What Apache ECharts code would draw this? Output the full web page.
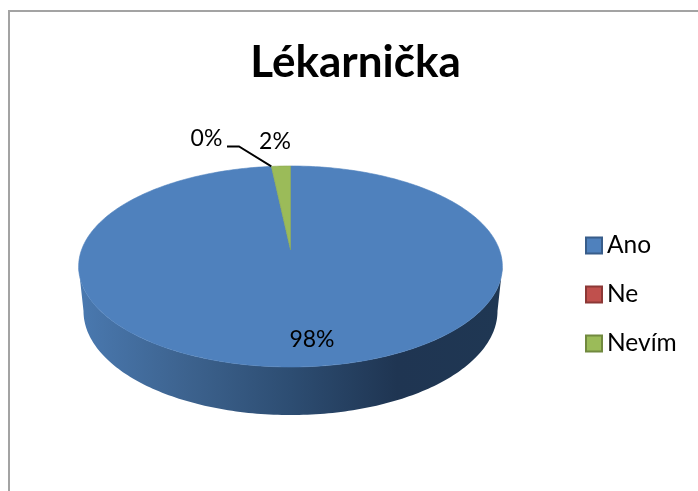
<!DOCTYPE html>
<html>
<head>
<meta charset="utf-8">
<style>
  html, body { margin: 0; padding: 0; background: #fff; }
  #chart { width: 698px; height: 491px; }
</style>
<script src="https://cdn.jsdelivr.net/npm/echarts@6/dist/echarts.min.js"></script>
</head>
<body>
<div id="chart"></div>
<script>
const categories = ["Ano", "Ne", "Nevím"]
const shares = [98.3, 0, 1.7]
const shareLabels = ["98%", "0%", "2%"]
const fills = ["#4f81bd", "#c0504d", "#9bbb59"]
const edges = ["#385d8a", "#8c3836", "#71893f"]

const FONT = "Lato, sans-serif"
const TOTAL = shares.reduce((a, b) => a + b, 0)

// Excel tilts the pie, so the disc is a perspective circle and not a plain ellipse
const TILT = 0.164
const topFace = { cx: 290.5, cy: 250, a: 209, b: 97.8 }
const lowFace = { cx: 290.5, cy: 294, a: 204.2, b: 101.2 }
const labelAt = [[312, 339.5], [206.5, 139], [275, 142]]

function project(face, deg) {
  const t = (deg * Math.PI) / 180
  const w = 1 + TILT * Math.cos(t)
  return [face.cx + (face.a * Math.sin(t)) / w, face.cy - (face.b * Math.cos(t)) / w]
}

function arc(face, from, to) {
  const pts = []
  const steps = Math.max(1, Math.ceil(Math.abs(to - from)))
  for (let i = 0; i <= steps; i++) pts.push(project(face, from + ((to - from) * i) / steps))
  return pts
}

// angle range of the slice, clockwise from twelve o'clock
function sliceRange(idx) {
  let before = 0
  for (let i = 0; i < idx; i++) before += shares[i]
  return [(before / TOTAL) * 360, ((before + shares[idx]) / TOTAL) * 360]
}

const wallGradient = new echarts.graphic.LinearGradient(78, 0, 503, 0, [
  { offset: 0, color: "#4a79b0" },
  { offset: 0.25, color: "#3d638f" },
  { offset: 0.5, color: "#2d4d72" },
  { offset: 0.75, color: "#1f3552" },
  { offset: 1, color: "#1f3753" },
], true)

function renderSlice(params, api) {
  const idx = params.seriesIndex
  const [start, end] = sliceRange(idx)
  const children = []

  // front wall only exists between the two silhouette points of the disc
  const edgeDeg = (Math.acos(-TILT) * 180) / Math.PI
  const from = Math.max(start, edgeDeg)
  const to = Math.min(end, 360 - edgeDeg)
  if (to > from) {
    children.push({
      type: "polygon",
      shape: { points: arc(topFace, from, to).concat(arc(lowFace, to, from)) },
      style: { fill: wallGradient },
    })
  }

  if (api.value(0) > 0) {
    children.push({
      type: "polygon",
      shape: { points: [[topFace.cx, topFace.cy]].concat(arc(topFace, start, end)) },
      style: { fill: fills[idx], stroke: idx === 2 ? "#8aa650" : fills[idx], lineWidth: 0.6 },
    })
  } else {
    // empty slice still gets its leader line
    const tip = project(topFace, start)
    children.push({
      type: "polyline",
      shape: { points: [[227, 146.5], [239, 146.5], tip] },
      style: { fill: "none", stroke: "#000", lineWidth: 1.8 },
    })
  }

  children.push({
    type: "text",
    z2: 10,
    style: {
      text: shareLabels[idx],
      x: labelAt[idx][0],
      y: labelAt[idx][1],
      align: "center",
      verticalAlign: "middle",
      fill: "#000",
      font: "23px " + FONT,
    },
  })
  return { type: "group", children }
}

const chart = echarts.init(document.getElementById("chart"), null, { renderer: "canvas" })

chart.setOption({
  animation: false,
  backgroundColor: "#fff",
  title: {
    text: "Lékarnička",
    left: 350.5,
    top: 36,
    textAlign: "center",
    textStyle: { color: "#000", fontFamily: FONT, fontWeight: "bold", fontSize: 44 },
  },
  legend: {
    data: categories,
    orient: "vertical",
    left: 585,
    top: 233,
    icon: "rect",
    itemWidth: 16,
    itemHeight: 16,
    itemGap: 24,
    textStyle: { color: "#000", fontFamily: FONT, fontSize: 24.5, padding: [0, 0, 0, 0] },
    padding: 0,
    selectedMode: false,
  },
  graphic: [
    {
      type: "rect",
      silent: true,
      z: -1,
      shape: { x: 9, y: 11, width: 800, height: 600 },
      style: { fill: "none", stroke: "#a3a3a3", lineWidth: 2 },
    },
  ],
  series: categories.map((name, i) => ({
    name,
    type: "custom",
    coordinateSystem: "none",
    itemStyle: { color: fills[i], borderColor: edges[i], borderWidth: 2 },
    renderItem: renderSlice,
    data: [[shares[i]]],
  })),
})
</script>
</body>
</html>
